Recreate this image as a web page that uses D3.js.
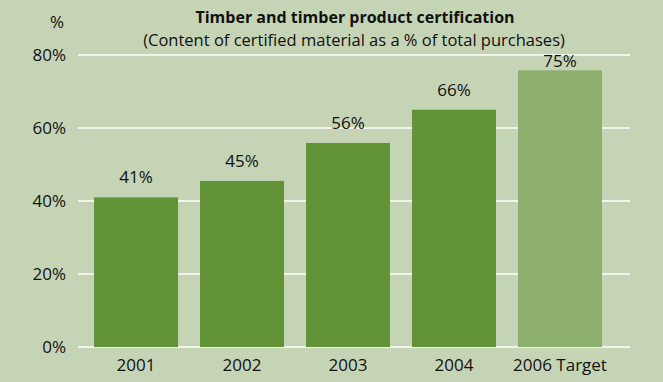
<!DOCTYPE html>
<html>
<head>
<meta charset="utf-8">
<script src="https://cdn.jsdelivr.net/npm/d3@7"></script>
<style>
  body { margin: 0; background: #c6d4b6; }
  svg text { font-family: "Open Sans", sans-serif; fill: #111; }
</style>
</head>
<body>
<div id="chart"></div>
<script>
var years = ["2001", "2002", "2003", "2004", "2006 Target"];
var values = [41, 45.5, 55.9, 65, 75.8];
var valueLabels = ["41%", "45%", "56%", "66%", "75%"];
var yTicks = [0, 20, 40, 60, 80];

var width = 663, height = 382;

var svg = d3.select("#chart")
  .append("svg")
  .attr("width", width)
  .attr("height", height);

svg.append("rect")
  .attr("width", width)
  .attr("height", height)
  .attr("fill", "#c6d4b6");

var x = d3.scaleBand()
  .domain(years)
  .range([83, 613])
  .paddingInner(0.2075)
  .paddingOuter(0.104);

var y = d3.scaleLinear()
  .domain([0, 80])
  .range([347, 55]);

// gridlines
svg.append("g")
  .selectAll("line")
  .data(yTicks)
  .enter().append("line")
  .attr("x1", 78)
  .attr("x2", 630)
  .attr("y1", function (d) { return y(d); })
  .attr("y2", function (d) { return y(d); })
  .attr("stroke", "#fff")
  .attr("stroke-width", 1.5);

var yAxis = d3.axisLeft(y)
  .tickValues(yTicks)
  .tickSize(0)
  .tickPadding(0)
  .tickFormat(function (d) { return d + "%"; });

var gy = svg.append("g")
  .attr("transform", "translate(66,0)")
  .call(yAxis);
gy.select(".domain").remove();
gy.selectAll("text")
  .style("font-size", "17px")
  .attr("dy", "0.35em");

svg.append("g")
  .selectAll("rect")
  .data(values)
  .enter().append("rect")
  .attr("x", function (d, i) { return x(years[i]); })
  .attr("width", x.bandwidth())
  .attr("y", function (d) { return y(d); })
  .attr("height", function (d) { return y(0) - y(d); })
  .attr("fill", function (d, i) { return i === years.length - 1 ? "#8caf6d" : "#629337"; });

svg.append("g")
  .selectAll("text")
  .data(values)
  .enter().append("text")
  .attr("x", function (d, i) { return x(years[i]) + x.bandwidth() / 2; })
  .attr("y", function (d) { return Math.max(y(d) - 14, 67); })
  .attr("text-anchor", "middle")
  .style("font-size", "17px")
  .text(function (d, i) { return valueLabels[i]; });

var xAxis = d3.axisBottom(x).tickSize(0).tickPadding(0);
var gx = svg.append("g")
  .attr("transform", "translate(0,371)")
  .call(xAxis);
gx.select(".domain").remove();
gx.selectAll("text")
  .attr("dy", 0)
  .style("font-size", "17px");

svg.append("text")
  .attr("x", 57)
  .attr("y", 28)
  .attr("text-anchor", "middle")
  .style("font-size", "17px")
  .text("%");

svg.append("text")
  .attr("x", 355)
  .attr("y", 23)
  .attr("text-anchor", "middle")
  .style("font-size", "16px")
  .style("font-weight", "bold")
  .text("Timber and timber product certification");

svg.append("text")
  .attr("x", 354)
  .attr("y", 46)
  .attr("text-anchor", "middle")
  .style("font-size", "16.5px")
  .text("(Content of certified material as a % of total purchases)");
</script>
</body>
</html>
